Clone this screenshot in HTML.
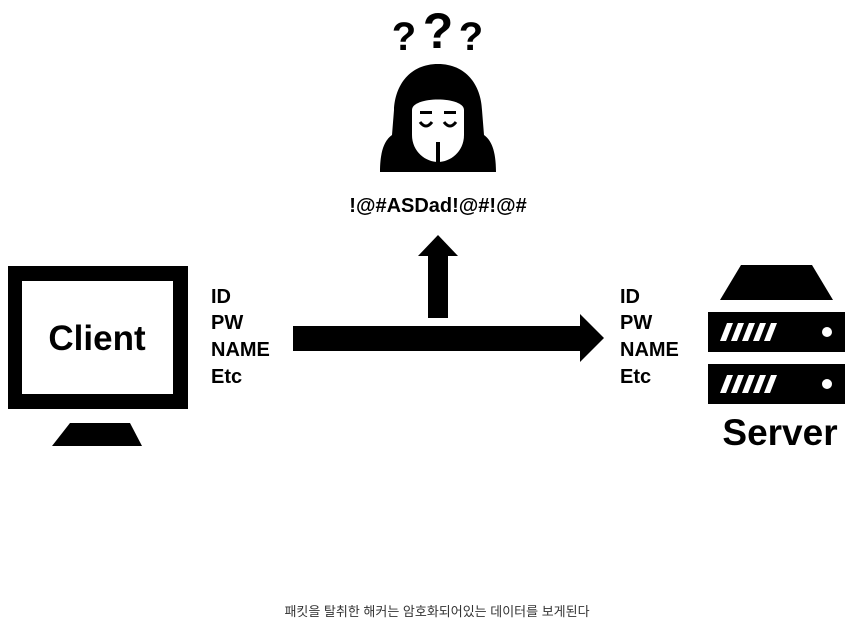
<!DOCTYPE html>
<html><head><meta charset="utf-8"><style>
html,body{margin:0;padding:0;background:#fff;width:855px;height:623px;overflow:hidden}
svg text{font-family:"Liberation Sans","Noto Sans CJK KR",sans-serif}
</style></head><body>
<svg width="855" height="623" viewBox="0 0 855 623" xmlns="http://www.w3.org/2000/svg">
<text x="404" y="50" font-size="40" font-weight="bold" text-anchor="middle" fill="#000">?</text>
<text x="438" y="48" font-size="50" font-weight="bold" text-anchor="middle" fill="#000">?</text>
<text x="471" y="50" font-size="40" font-weight="bold" text-anchor="middle" fill="#000">?</text>
<path d="M438 64 C410 64 395 85 394 110 L392 135 C385 140 380 150 380 172 L496 172 C496 150 491 140 484 135 L482 110 C481 85 466 64 438 64 Z" fill="#000"/>
<path d="M412 110 C412 96 464 96 464 110 L464 135 C464 152 450 162 438 162 C426 162 412 152 412 135 Z" fill="#fff"/>
<rect x="420" y="111" width="12" height="3" fill="#000"/><rect x="444" y="111" width="12" height="3" fill="#000"/>
<path d="M420 122 Q426 130 432 122" stroke="#000" stroke-width="3" fill="none"/>
<path d="M444 122 Q450 130 456 122" stroke="#000" stroke-width="3" fill="none"/>
<rect x="436" y="142" width="4" height="20" fill="#000"/>
<text x="438" y="212" font-size="20" font-weight="bold" text-anchor="middle" fill="#000">!@#ASDad!@#!@#</text>
<rect x="428" y="254" width="20" height="64" fill="#000"/>
<polygon points="438,235 458,256 418,256" fill="#000"/>
<rect x="293" y="326" width="290" height="25" fill="#000"/>
<polygon points="580,314 604,338 580,362" fill="#000"/>
<rect x="8" y="266" width="180" height="143" fill="#000"/>
<rect x="22" y="281" width="151" height="113" fill="#fff"/>
<polygon points="70,423 130,423 142,446 52,446" fill="#000"/>
<text x="97" y="350" font-size="35" font-weight="bold" text-anchor="middle" fill="#000">Client</text>
<g font-size="20" font-weight="bold" fill="#000">
<text x="211" y="303">ID</text><text x="211" y="329">PW</text><text x="211" y="356">NAME</text><text x="211" y="383">Etc</text>
<text x="620" y="303">ID</text><text x="620" y="329">PW</text><text x="620" y="356">NAME</text><text x="620" y="383">Etc</text>
</g>
<polygon points="741,265 812,265 833,300 720,300" fill="#000"/>
<rect x="708" y="312" width="137" height="40" fill="#000"/>
<rect x="708" y="364" width="137" height="40" fill="#000"/>
<g fill="#fff">
<polygon points="720,341 727,323 733,323 726,341"/><polygon points="731,341 738,323 744,323 737,341"/>
<polygon points="742,341 749,323 755,323 748,341"/><polygon points="753,341 760,323 766,323 759,341"/>
<polygon points="764,341 771,323 777,323 770,341"/>
<polygon points="720,393 727,375 733,375 726,393"/><polygon points="731,393 738,375 744,375 737,393"/>
<polygon points="742,393 749,375 755,375 748,393"/><polygon points="753,393 760,375 766,375 759,393"/>
<polygon points="764,393 771,375 777,375 770,393"/>
<circle cx="827" cy="332" r="5"/><circle cx="827" cy="384" r="5"/>
</g>
<text x="780" y="445" font-size="37" font-weight="bold" text-anchor="middle" fill="#000">Server</text>
<text x="437" y="616" font-size="13" text-anchor="middle" fill="#333">패킷을 탈취한 해커는 암호화되어있는 데이터를 보게된다</text>
</svg>
</body></html>
